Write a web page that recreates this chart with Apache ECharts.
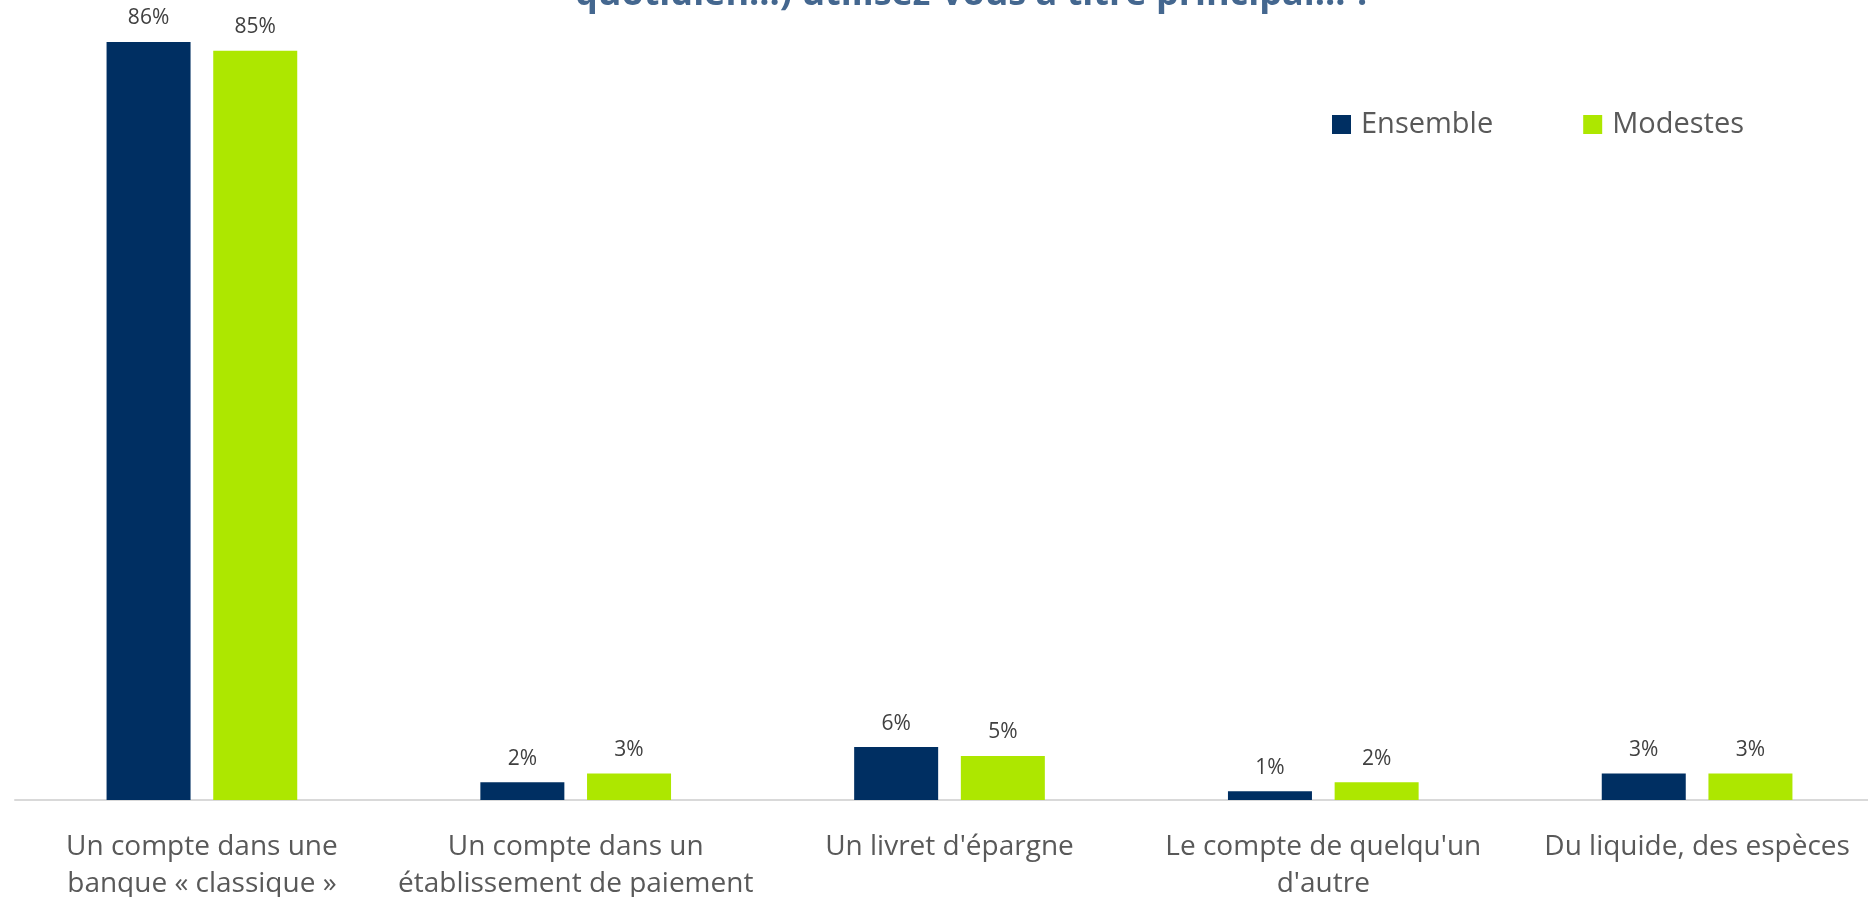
<!DOCTYPE html>
<html>
<head>
<meta charset="utf-8">
<script src="https://cdn.jsdelivr.net/npm/echarts@6/dist/echarts.min.js"></script>
<style>
  html, body { margin: 0; padding: 0; background: #fff; }
  #chart { width: 1868px; height: 897px; }
</style>
</head>
<body>
<div id="chart"></div>
<script>
const categories = [
  'Un compte dans une\nbanque « classique »',
  'Un compte dans un\nétablissement de paiement',
  "Un livret d'épargne",
  "Le compte de quelqu'un\nd'autre",
  'Du liquide, des espèces'
]
const legendNames = ['Ensemble', 'Modestes']
const ensemble = [86, 2, 6, 1, 3]
const modestes = [85, 3, 5, 2, 3]

const chart = echarts.init(document.getElementById('chart'))

const labelStyle = {
  show: true,
  position: 'top',
  distance: 13,
  formatter: '{c}%',
  color: '#404040',
  fontSize: 21,
  fontFamily: 'Open Sans'
}

const option = {
  animation: false,
  title: {
    text: 'quotidien...) utilisez-vous à titre principal... ?',
    left: 570,
    top: -32,
    textStyle: {
      color: '#44678f',
      fontSize: 36,
      fontWeight: 'bold',
      fontFamily: 'Open Sans',
      lineHeight: 44
    }
  },
  legend: {
    data: legendNames,
    left: 1327,
    top: 105,
    icon: 'rect',
    itemWidth: 19,
    itemHeight: 19,
    itemGap: 90,
    textStyle: {
      color: '#595959',
      fontSize: 29,
      fontFamily: 'Open Sans',
      width: 135,
      padding: [0, 0, 0, 5]
    }
  },
  grid: {
    left: 15,
    right: -16,
    top: 42,
    bottom: 97,
    outerBoundsMode: 'none'
  },
  xAxis: {
    type: 'category',
    data: categories,
    axisLine: {
      show: true,
      lineStyle: { color: '#d9d9d9', width: 2 }
    },
    axisTick: { show: false },
    axisLabel: {
      interval: 0,
      margin: 29,
      color: '#595959',
      fontSize: 28,
      lineHeight: 37,
      fontFamily: 'Open Sans'
    }
  },
  yAxis: {
    type: 'value',
    min: 0,
    max: 86,
    show: false,
    splitLine: { show: false }
  },
  series: [
    {
      name: legendNames[0],
      type: 'bar',
      barWidth: 84,
      barGap: '27%',
      itemStyle: { color: '#002f62' },
      label: labelStyle,
      data: ensemble
    },
    {
      name: legendNames[1],
      type: 'bar',
      barWidth: 84,
      itemStyle: { color: '#ade700' },
      label: labelStyle,
      data: modestes
    }
  ]
}

chart.setOption(option)
</script>
</body>
</html>
